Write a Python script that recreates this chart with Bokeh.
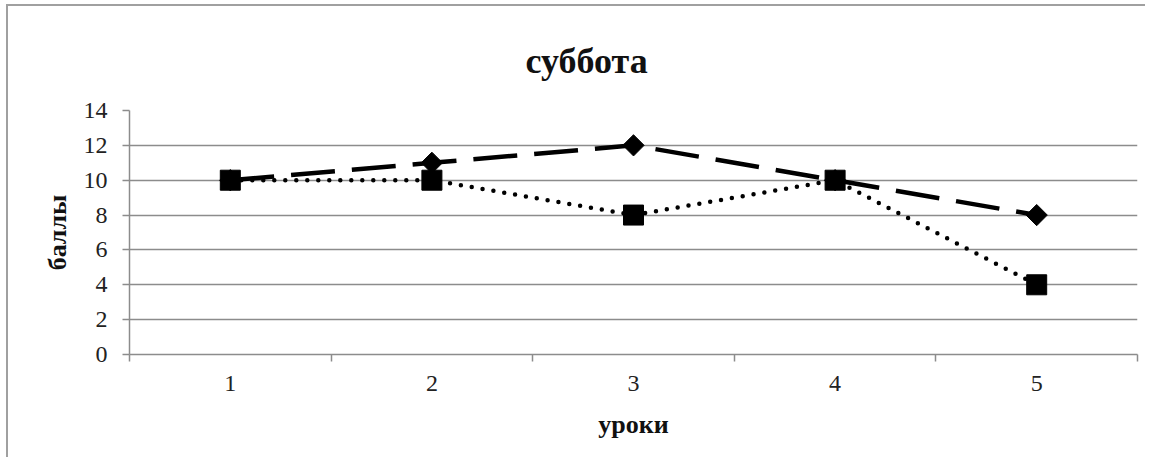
import math
from bokeh.plotting import figure
from bokeh.models import FixedTicker, Range1d
from bokeh.embed import file_html
from bokeh.resources import INLINE

# ---- data ----
lessons = [1, 2, 3, 4, 5]
tick_labels = ["1", "2", "3", "4", "5"]
series_dashed = [10, 11, 12, 10, 8]   # dashed line, diamond markers
series_dotted = [10, 10, 8, 10, 4]    # dotted line, square markers
y_ticks = [0, 2, 4, 6, 8, 10, 12, 14]

FONT = "Liberation Serif"
GRID = "#8c8c8c"

p = figure(width=1139, height=453, output_backend="svg", toolbar_location=None,
           x_range=Range1d(lessons[0] - 0.5, lessons[-1] + 0.5),
           y_range=Range1d(y_ticks[0], y_ticks[-1]),
           min_border_left=121, min_border_right=10,
           min_border_top=104, min_border_bottom=105)
p.styles = {"border-left": "2px solid #a0a0a0", "border-top": "2px solid #a0a0a0",
            "margin-top": "4px", "margin-left": "6px"}

p.outline_line_color = None
p.background_fill_color = "white"
p.border_fill_color = "white"

# title
p.title.text = "суббота"
p.title.align = "left"
p.title.text_font = FONT
p.title.text_font_size = "36px"
p.title.text_font_style = "bold"
p.title.text_color = "#111111"
p.title.offset = 396
p.title.standoff = 60

# grid
p.xgrid.visible = False
p.ygrid.ticker = FixedTicker(ticks=y_ticks)
p.ygrid.grid_line_color = GRID
p.ygrid.grid_line_width = 1.5

# y axis
p.yaxis.ticker = FixedTicker(ticks=y_ticks)
p.yaxis.axis_line_color = GRID
p.yaxis.axis_line_width = 1.5
p.yaxis.major_tick_line_color = GRID
p.yaxis.major_tick_line_width = 1.5
p.yaxis.major_tick_out = 7
p.yaxis.major_tick_in = 0
p.yaxis.minor_tick_line_color = None
p.yaxis.major_label_text_font = FONT
p.yaxis.major_label_text_font_size = "24px"
p.yaxis.major_label_text_color = "#222222"
p.yaxis.major_label_standoff = 15
p.yaxis.axis_label = "баллы"
p.yaxis.axis_label_text_font = FONT
p.yaxis.axis_label_text_font_size = "26px"
p.yaxis.axis_label_text_font_style = "bold"
p.yaxis.axis_label_text_color = "#111111"
p.yaxis.axis_label_standoff = 9

# x axis
boundaries = [x - 0.5 for x in lessons] + [lessons[-1] + 0.5]
p.xaxis.ticker = FixedTicker(ticks=lessons, minor_ticks=boundaries)
p.xaxis.major_label_overrides = {x: t for x, t in zip(lessons, tick_labels)}
p.xaxis.axis_line_color = GRID
p.xaxis.axis_line_width = 1.5
p.xaxis.major_tick_line_color = None
p.xaxis.minor_tick_line_color = GRID
p.xaxis.minor_tick_line_width = 1.5
p.xaxis.minor_tick_out = 7
p.xaxis.minor_tick_in = 0
p.xaxis.major_label_text_font = FONT
p.xaxis.major_label_text_font_size = "24px"
p.xaxis.major_label_text_color = "#222222"
p.xaxis.major_label_standoff = 14
p.xaxis.axis_label = "уроки"
p.xaxis.axis_label_text_font = FONT
p.xaxis.axis_label_text_font_size = "26px"
p.xaxis.axis_label_text_font_style = "bold"
p.xaxis.axis_label_text_color = "#111111"
p.xaxis.axis_label_standoff = 16

# series
p.line(lessons, series_dashed, line_color="black", line_width=4.5, line_dash="44 17")
p.scatter(lessons, series_dashed, marker="square", angle=math.pi / 4, size=15,
          fill_color="black", line_color="black")
p.line(lessons, series_dotted, line_color="black", line_width=4.5, line_dash="0 11",
       line_cap="round")
p.scatter(lessons, series_dotted, marker="square", size=20,
          fill_color="black", line_color="black")

open("out.html", "w").write(file_html(p, INLINE))
